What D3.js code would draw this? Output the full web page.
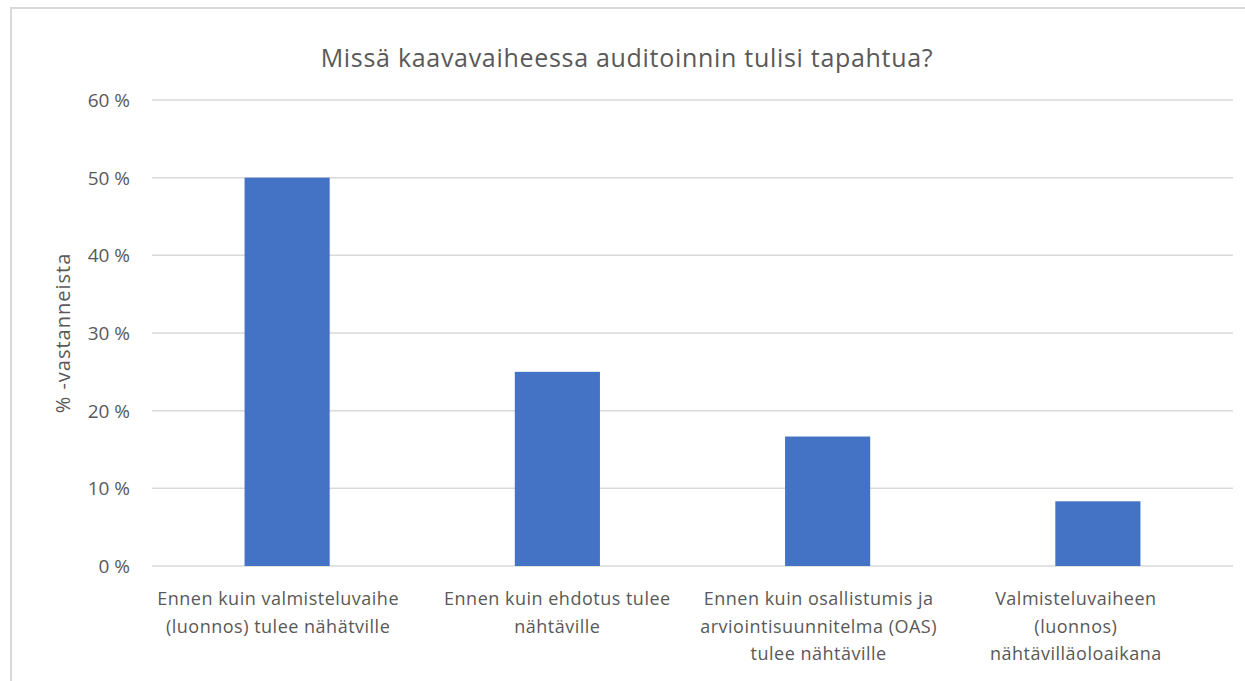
<!DOCTYPE html>
<html>
<head>
<meta charset="utf-8">
<script src="https://cdn.jsdelivr.net/npm/d3@7"></script>
<style>
  body { margin: 0; background: #fff; }
  text { font-family: "Open Sans", "Noto Sans", sans-serif; fill: #595959; }
</style>
</head>
<body>
<div id="chart"></div>
<script>
// data
var categories = [
  ["Ennen kuin valmisteluvaihe", "(luonnos) tulee nähätville"],
  ["Ennen kuin ehdotus tulee", "nähtäville"],
  ["Ennen kuin osallistumis ja", "arviointisuunnitelma (OAS)", "tulee nähtäville"],
  ["Valmisteluvaiheen", "(luonnos)", "nähtävilläoloaikana"]
];
var values = [50, 25, 16.67, 8.33];
var yTicks = [0, 10, 20, 30, 40, 50, 60];
var title = "Missä kaavavaiheessa auditoinnin tulisi tapahtua?";
var yTitle = "% -vastanneista";

// layout
var w = 1245, h = 681;
var plotLeft = 152, plotRight = 1233, plotTop = 100, plotBottom = 566;
var labelDx = [-9, 0, -9, -22]; // excel's wrapped label boxes sit a bit left of the bar centre

var svg = d3.select("#chart").append("svg")
  .attr("width", w).attr("height", h);

// chart border (cropped on right/bottom)
svg.append("path")
  .attr("d", "M11," + (h + 5) + "V8H" + (w + 5))
  .attr("fill", "none")
  .attr("stroke", "#d9d9d9")
  .attr("stroke-width", 2);

var x = d3.scaleBand()
  .domain(d3.range(values.length))
  .range([plotLeft, plotRight])
  .paddingInner(0.685)
  .paddingOuter(0.3425);

var y = d3.scaleLinear().domain([0, 60]).range([plotBottom, plotTop]);

// gridlines
svg.selectAll("line.grid")
  .data(yTicks)
  .enter().append("line")
  .attr("class", "grid")
  .attr("x1", plotLeft).attr("x2", plotRight)
  .attr("y1", function(d) { return y(d); })
  .attr("y2", function(d) { return y(d); })
  .attr("stroke", "#d9d9d9")
  .attr("stroke-width", 1.5);

// y tick labels
svg.selectAll("text.ytick")
  .data(yTicks)
  .enter().append("text")
  .attr("class", "ytick")
  .attr("x", 130)
  .attr("y", function(d) { return y(d) + 7; })
  .attr("text-anchor", "end")
  .attr("font-size", "19px")
  .text(function(d) { return d + " %"; });

// bars
svg.selectAll("rect.bar")
  .data(values)
  .enter().append("rect")
  .attr("class", "bar")
  .attr("x", function(d, i) { return x(i); })
  .attr("width", x.bandwidth())
  .attr("y", function(d) { return y(d); })
  .attr("height", function(d) { return y(0) - y(d); })
  .attr("fill", "#4472c4");

// x labels
var lab = svg.selectAll("text.xlab")
  .data(categories)
  .enter().append("text")
  .attr("class", "xlab")
  .attr("text-anchor", "middle")
  .attr("font-size", "18px")
  .attr("letter-spacing", "0.5px");

lab.selectAll("tspan")
  .data(function(d, i) { return d.map(function(s) { return { s: s, i: i }; }); })
  .enter().append("tspan")
  .attr("x", function(d) { return x(d.i) + x.bandwidth() / 2 + labelDx[d.i]; })
  .attr("y", function(d, j) { return 605 + j * 27.5; })
  .text(function(d) { return d.s; });

// title
svg.append("text")
  .attr("x", 627).attr("y", 67)
  .attr("text-anchor", "middle")
  .attr("font-size", "25px")
  .attr("letter-spacing", "0.7px")
  .text(title);

// y axis title
svg.append("text")
  .attr("transform", "translate(70," + ((plotTop + plotBottom) / 2) + ") rotate(-90)")
  .attr("text-anchor", "middle")
  .attr("font-size", "20px")
  .attr("letter-spacing", "1px")
  .text(yTitle);
</script>
</body>
</html>
